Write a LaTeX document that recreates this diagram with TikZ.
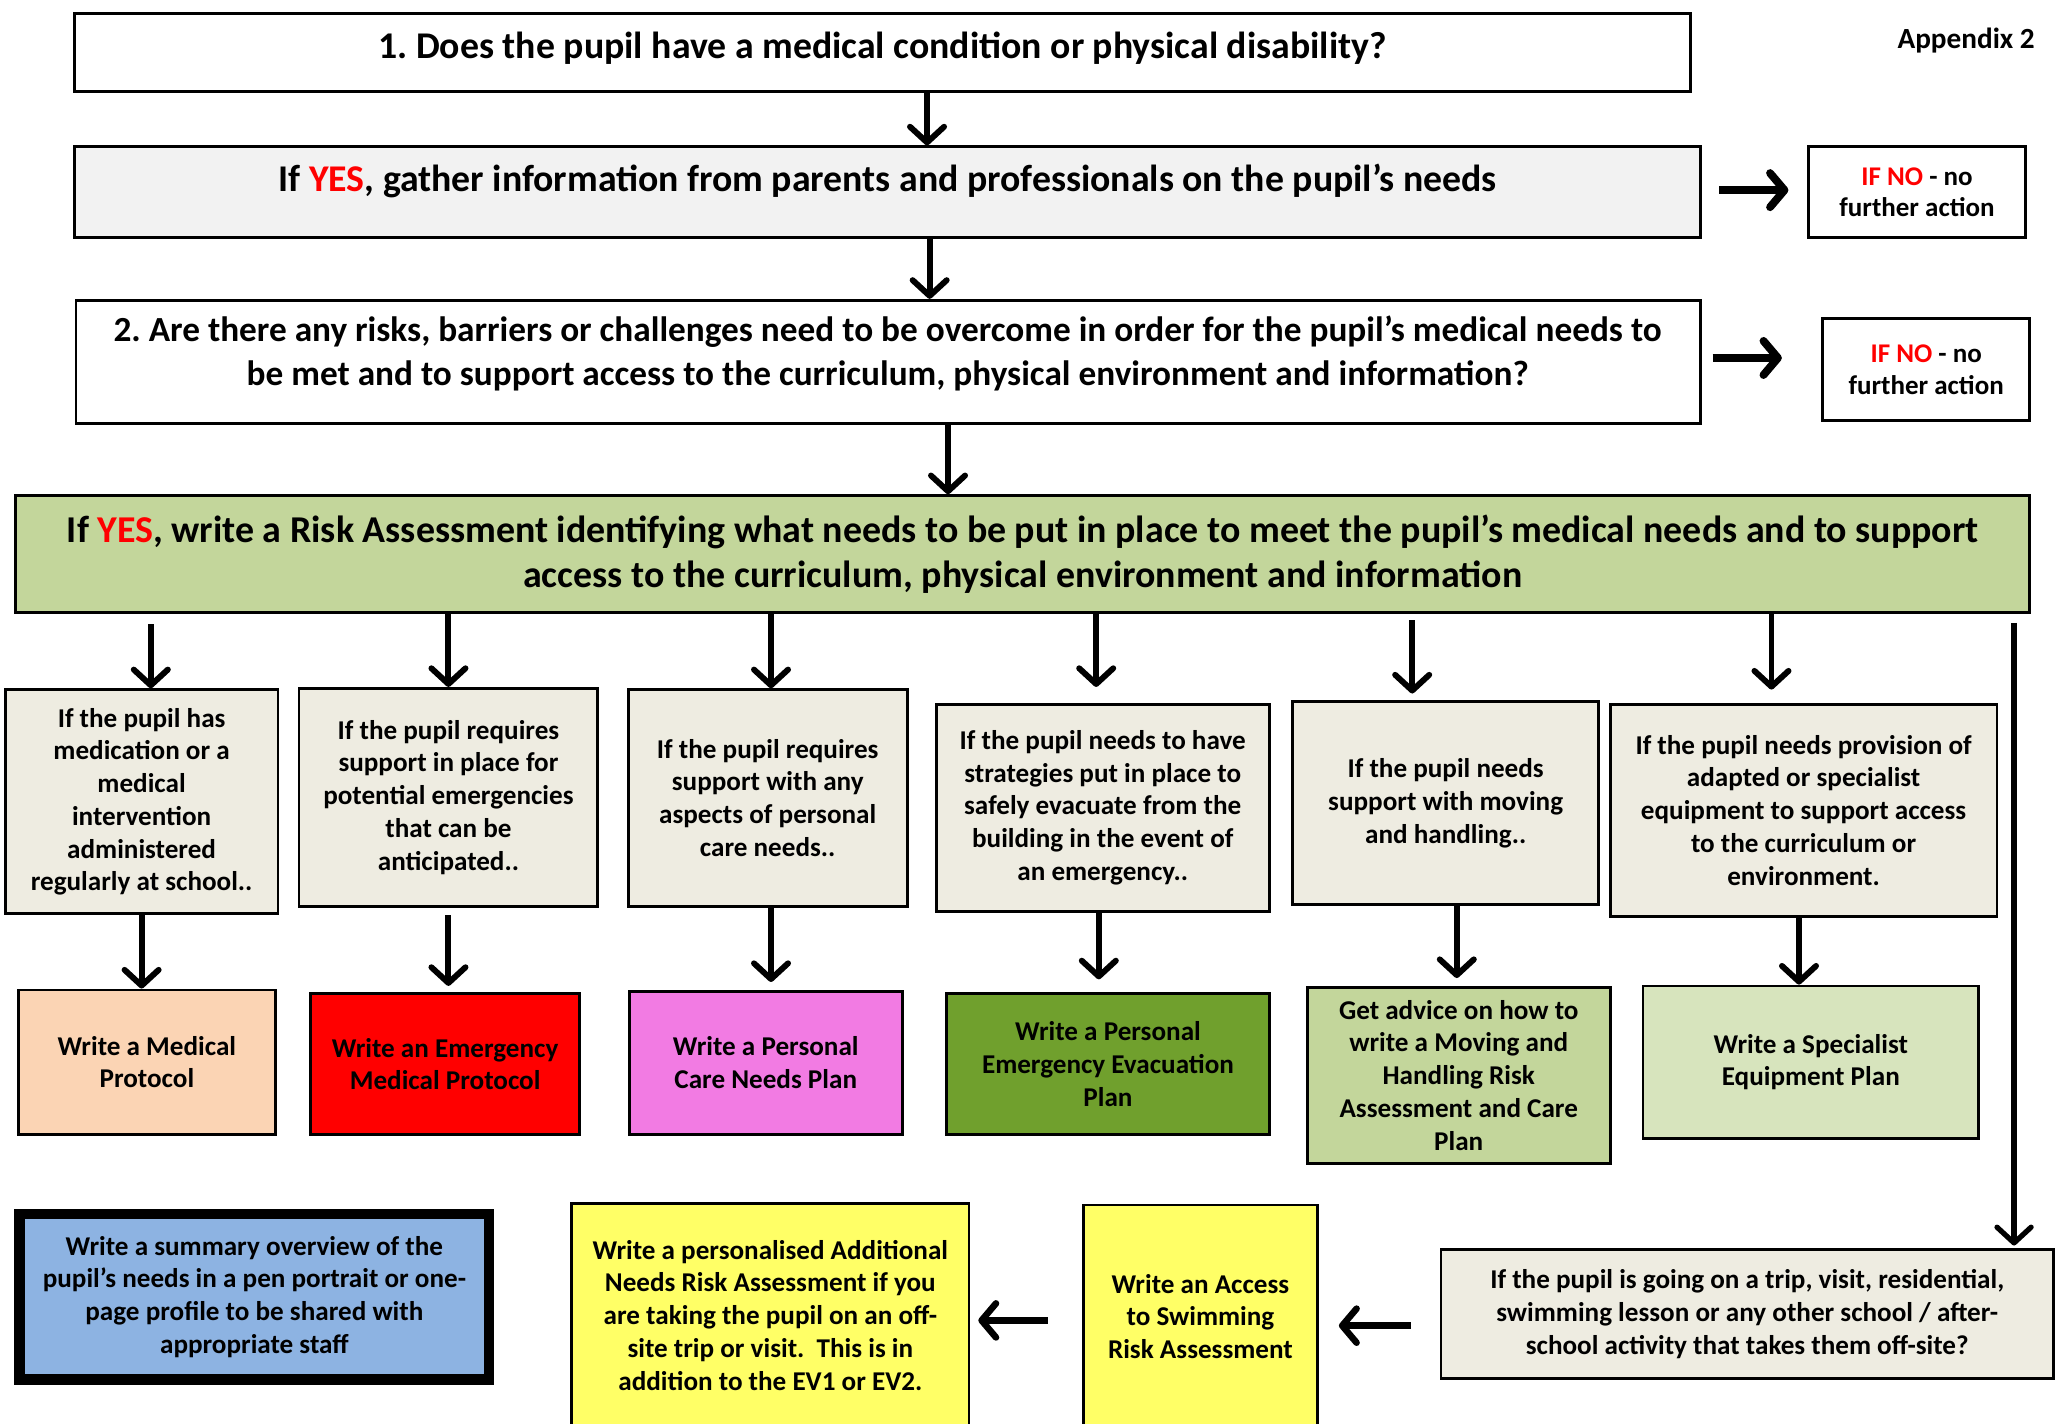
\documentclass[tikz,border=0pt]{standalone}
\usepackage{fontspec}
\setmainfont{Carlito}
\usetikzlibrary{arrows.meta}
\definecolor{lightgrey}{HTML}{F2F2F2}
\definecolor{headgreen}{HTML}{C3D69B}
\definecolor{tan}{HTML}{EEECE1}
\definecolor{peach}{HTML}{FBD4B4}
\definecolor{pinkfill}{HTML}{F27BE3}
\definecolor{darkgreen}{HTML}{70A02D}
\definecolor{palegreen}{HTML}{D7E4BD}
\definecolor{bluefill}{HTML}{8DB3E2}
\definecolor{yellowfill}{HTML}{FFFF66}
\begin{document}
\frenchspacing
\begin{tikzpicture}[x=1pt,y=-1pt,
  box/.style={draw=black, line width=2.2pt, inner sep=0pt, align=center, rectangle},
  bigtxt/.style={font=\bfseries\fontsize{28.8}{33}\selectfont, align=center, inner sep=0pt},
  midtxt/.style={font=\bfseries\fontsize{28.9}{34}\selectfont, align=center, inner sep=0pt},
  smalltxt/.style={font=\bfseries\fontsize{20.7}{25}\selectfont, align=center},
  notxt/.style={font=\bfseries\fontsize{20.6}{24}\selectfont, align=center},
  varr/.style={line width=4.5pt, -{Straight Barb[length=12pt,width=26pt,round]}},
  harr/.style={line width=6pt, -{Straight Barb[length=11pt,width=26pt,round]}}
]
\clip (0,0) rectangle (1568,1086);
\fill[white] (0,0) rectangle (1568,1086);

% top boxes
\node[box, fill=white, minimum width=1232pt, minimum height=60pt] (q1) at (673,40) {};
\node[bigtxt] (q1t) at (673,37) {1. Does the pupil have a medical condition or physical disability?};
\node[font=\bfseries\fontsize{22.3}{26}\selectfont, anchor=east, inner sep=0pt] (app) at (1552,31) {Appendix 2};

\node[box, fill=lightgrey, minimum width=1240pt, minimum height=69pt] (b2) at (677,146.5) {};
\node[bigtxt] (b2t) at (677,138) {If \textcolor{red}{YES}, gather information from parents and professionals on the pupil’s needs};

\node[box, fill=white, minimum width=166pt, minimum height=69pt, notxt] (no1) at (1462,146.5)
  {\textcolor{red}{IF NO} - no\\further action};

\node[box, fill=white, minimum width=1239pt, minimum height=94pt] (b3) at (677.5,276) {};
\node[bigtxt, font=\bfseries\fontsize{26.9}{33}\selectfont] (b3t) at (677,269.5) {2. Are there any risks, barriers or challenges need to be overcome in order for the pupil’s medical needs to\\be met and to support access to the curriculum, physical environment and information?};

\node[box, fill=white, minimum width=158pt, minimum height=78pt, notxt] (no2) at (1469,282)
  {\textcolor{red}{IF NO} - no\\further action};

\node[box, fill=headgreen, minimum width=1536pt, minimum height=89pt, midtxt] (g) at (780,422.5)
  {If \textcolor{red}{YES}, write a Risk Assessment identifying what needs to be put in place to meet the pupil’s medical needs and to support\\access to the curriculum, physical environment and information};

% column boxes
\node[box, fill=tan, minimum width=208pt, minimum height=171pt, smalltxt] (c1) at (108,611.5)
  {If the pupil has\\medication or a\\medical\\intervention\\administered\\regularly at school..};
\node[box, fill=tan, minimum width=228pt, minimum height=166pt, smalltxt] (c2) at (342,608)
  {If the pupil requires\\support in place for\\potential emergencies\\that can be\\anticipated..};
\node[box, fill=tan, minimum width=213pt, minimum height=165pt, smalltxt] (c3) at (585.5,608.5)
  {If the pupil requires\\support with any\\aspects of personal\\care needs..};
\node[box, fill=tan, minimum width=254pt, minimum height=158pt, smalltxt] (c4) at (841,616)
  {If the pupil needs to have\\strategies put in place to\\safely evacuate from the\\building in the event of\\an emergency..};
\node[box, fill=tan, minimum width=233pt, minimum height=155pt, smalltxt] (c5) at (1102.5,612.5)
  {If the pupil needs\\support with moving\\and handling..};
\node[box, fill=tan, minimum width=295pt, minimum height=162pt, smalltxt] (c6) at (1375.5,618)
  {If the pupil needs provision of\\adapted or specialist\\equipment to support access\\to the curriculum or\\environment.};

% result boxes
\node[box, fill=peach, minimum width=196pt, minimum height=110pt, smalltxt] (r1) at (112,810)
  {Write a Medical\\Protocol};
\node[box, fill=red, minimum width=205pt, minimum height=107pt, smalltxt] (r2) at (339.5,811.5)
  {Write an Emergency\\Medical Protocol};
\node[box, fill=pinkfill, minimum width=208pt, minimum height=109pt, smalltxt] (r3) at (584,810.5)
  {Write a Personal\\Care Needs Plan};
\node[box, fill=darkgreen, minimum width=246pt, minimum height=107pt, smalltxt] (r4) at (845,811.5)
  {Write a Personal\\Emergency Evacuation\\Plan};
\node[box, fill=headgreen, minimum width=231pt, minimum height=134pt, smalltxt] (r5) at (1112.5,820)
  {Get advice on how to\\write a Moving and\\Handling Risk\\Assessment and Care\\Plan};
\node[box, fill=palegreen, minimum width=256pt, minimum height=116pt, smalltxt] (r6) at (1381,810)
  {Write a Specialist\\Equipment Plan};

% bottom row
\node[box, line width=8pt, fill=bluefill, minimum width=358pt, minimum height=126pt, smalltxt] (blue) at (194,989)
  {Write a summary overview of the\\pupil’s needs in a pen portrait or one-\\page profile to be shared with\\appropriate staff};
\node[box, fill=yellowfill, minimum width=303pt, minimum height=177pt] (y1) at (587.5,1006.5) {};
\node[smalltxt] (y1t) at (587.5,1003)
  {Write a personalised Additional\\Needs Risk Assessment if you\\are taking the pupil on an off-\\site trip or visit.\ \ This is in\\addition to the EV1 or EV2.};
\node[box, fill=yellowfill, minimum width=179pt, minimum height=176pt] (y2) at (915.5,1007) {};
\node[smalltxt] (y2t) at (915.5,1004)
  {Write an Access\\to Swimming\\Risk Assessment};
\node[box, fill=tan, minimum width=467pt, minimum height=98pt, smalltxt] (trip) at (1332.5,1002)
  {If the pupil is going on a trip, visit, residential,\\swimming lesson or any other school / after-\\school activity that takes them off-site?};

% connectors: main spine
\draw[varr] ([xshift=34pt]q1.south) -- ([xshift=30pt]b2.north);
\draw[varr] ([xshift=32pt]b2.south) -- ([xshift=31.5pt]b3.north);
\draw[varr] ([xshift=45.5pt]b3.south) -- ([xshift=-57pt]g.north);
\draw[harr, shorten <=13pt, shorten >=14pt] ([yshift=1.5pt]b2.east) -- ([yshift=1.5pt]no1.west);
\draw[harr, shorten <=8pt, shorten >=30pt] ([yshift=3pt]b3.east) -- ([yshift=9pt]no2.west);

% green header to columns
\draw[varr, shorten <=8pt] ([xshift=-665pt]g.south) -- ([xshift=7pt]c1.north);
\draw[varr] ([xshift=-438pt]g.south) -- (c2.north);
\draw[varr] ([xshift=-192pt]g.south) -- ([xshift=2.5pt]c3.north);
\draw[varr, shorten >=12pt] ([xshift=56pt]g.south) -- ([xshift=-5pt]c4.north);
\draw[varr, shorten <=5pt, shorten >=5pt] ([xshift=297pt]g.south) -- ([xshift=-25.5pt]c5.north);
\draw[varr, shorten >=10pt] ([xshift=571pt]g.south) -- ([xshift=-24.5pt]c6.north);

% columns to results
\draw[varr] (c1.south) -- ([xshift=-4pt]r1.north);
\draw[varr, shorten <=6pt, shorten >=5pt] (c2.south) -- ([xshift=2.5pt]r2.north);
\draw[varr, shorten >=6pt] ([xshift=2.5pt]c3.south) -- ([xshift=4pt]r3.north);
\draw[varr, shorten >=10pt] ([xshift=-3pt]c4.south) -- ([xshift=-7pt]r4.north);
\draw[varr, shorten >=6pt] ([xshift=8.5pt]c5.south) -- ([xshift=-1.5pt]r5.north);
\draw[varr] ([xshift=-3.5pt]c6.south) -- ([xshift=-9pt]r6.north);

% long line to trip box
\coordinate (longtop) at (1536,475);
\draw[varr, line width=4pt, shorten >=2pt] (longtop) -- ([xshift=203.5pt]trip.north);

% leftward arrows
\draw[harr, line width=5pt, shorten <=22pt, shorten >=15pt] ([yshift=-9pt]trip.west) -- ([yshift=-4pt]y2.east);
\draw[harr, line width=5pt, shorten <=26pt, shorten >=6pt] (y2.west) -- ([yshift=-0.5pt]y1.east);
\end{tikzpicture}
\end{document}
